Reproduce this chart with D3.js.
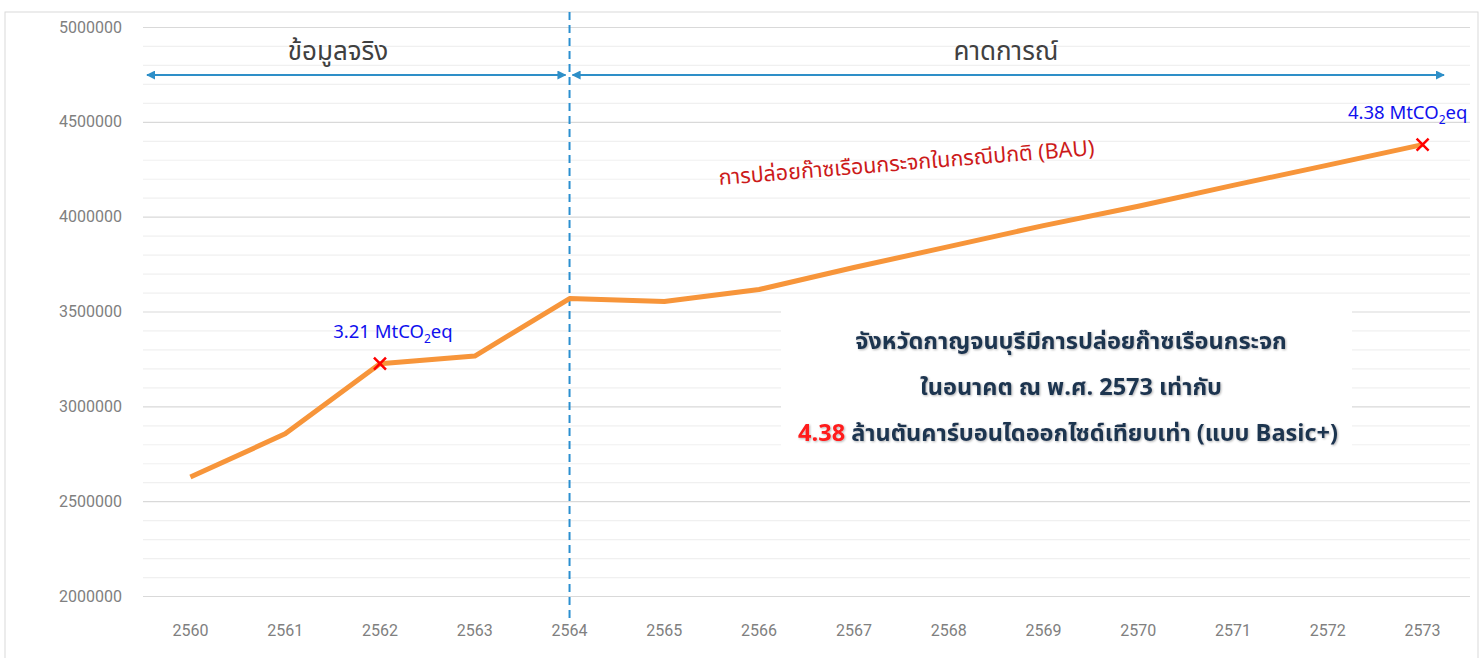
<!DOCTYPE html>
<meta charset="utf-8">
<style>
body { margin: 0; background: #fff; }
svg { font-family: "Noto Sans Thai", "Leelawadee UI", Tahoma, "DejaVu Sans", sans-serif; }
.tick-label { font-family: "Roboto", sans-serif; font-size: 16px; fill: #808080; }
</style>
<body>
<svg id="chart" width="1482" height="658"></svg>
<script src="https://cdn.jsdelivr.net/npm/d3@7"></script>
<script>

var years = ["2560","2561","2562","2563","2564","2565","2566","2567","2568","2569","2570","2571","2572","2573"];
var emissions = [2627000, 2855000, 3225000, 3265000, 3568000, 3553000, 3616000, 3732000, 3842000, 3953000, 4055000, 4165000, 4272000, 4380000];
var yTicks = [2000000, 2500000, 3000000, 3500000, 4000000, 4500000, 5000000];
var markedYears = ["2562", "2573"];
var markLabels = ["3.21 MtCO", "4.38 MtCO"];
var periodLabels = ["ข้อมูลจริง", "คาดการณ์"];
var splitYear = "2564";
var bauLabel = "การปล่อยก๊าซเรือนกระจกในกรณีปกติ (BAU)";
var boxLines = ["จังหวัดกาญจนบุรีมีการปล่อยก๊าซเรือนกระจก", "ในอนาคต ณ พ.ศ. 2573 เท่ากับ", "ล้านตันคาร์บอนไดออกไซด์เทียบเท่า (แบบ Basic+)"];
var boxValue = "4.38";

var svg = d3.select("#chart");

var x = d3.scalePoint()
    .domain(years)
    .range([143, 1470])
    .padding(0.5);
var y = d3.scaleLinear()
    .domain([2000000, 5000000])
    .range([596, 27]);

// outer frame
svg.append("rect")
    .attr("x", 5).attr("y", 12)
    .attr("width", 1473).attr("height", 660)
    .attr("fill", "none").attr("stroke", "#d9d9d9");

// minor + major grid
var minor = d3.range(2000000, 5000001, 100000);
svg.append("g").selectAll("line")
    .data(minor)
  .enter().append("line")
    .attr("x1", 143).attr("x2", 1470)
    .attr("y1", d => y(d) + 0.5).attr("y2", d => y(d) + 0.5)
    .attr("stroke", d => d % 500000 === 0 ? "#d9d9d9" : "#f0f0f0")
    .attr("stroke-width", 1.2);

// y labels
svg.append("g").selectAll("text")
    .data(yTicks)
  .enter().append("text")
    .attr("class", "tick-label")
    .attr("x", 122)
    .attr("y", d => y(d))
    .attr("dy", "0.35em")
    .attr("text-anchor", "end")
    .text(d => d);

// x labels
svg.append("g").selectAll("text")
    .data(years)
  .enter().append("text")
    .attr("class", "tick-label")
    .attr("x", d => x(d))
    .attr("y", 636)
    .attr("text-anchor", "middle")
    .text(d => d);

// white box behind the summary text
svg.append("rect")
    .attr("x", 781).attr("y", 308)
    .attr("width", 571).attr("height", 150)
    .attr("fill", "#fff");

// split line
svg.append("line")
    .attr("x1", x(splitYear)).attr("x2", x(splitYear))
    .attr("y1", 12).attr("y2", 620)
    .attr("stroke", "#2b8fd0").attr("stroke-width", 2)
    .attr("stroke-dasharray", "8,5");

// arrows
var defs = svg.append("defs");
defs.append("marker")
    .attr("id", "ah").attr("viewBox", "0 0 10 10")
    .attr("refX", 9).attr("refY", 5)
    .attr("markerWidth", 5).attr("markerHeight", 5)
    .attr("markerUnits", "strokeWidth")
    .attr("orient", "auto-start-reverse")
  .append("path").attr("d", "M0,0L10,5L0,10z").attr("fill", "#2e8fc8");
defs.append("filter").attr("id", "shadow")
  .append("feDropShadow")
    .attr("dx", 1).attr("dy", 1).attr("stdDeviation", 1)
    .attr("flood-color", "#000").attr("flood-opacity", 0.3);

var xs = x(splitYear);
var spans = [[147, xs - 4], [xs + 3, 1444]];
svg.append("g").selectAll("line")
    .data(spans)
  .enter().append("line")
    .attr("x1", d => d[0]).attr("x2", d => d[1])
    .attr("y1", 75).attr("y2", 75)
    .attr("stroke", "#2e8fc8").attr("stroke-width", 1.8)
    .attr("marker-start", "url(#ah)").attr("marker-end", "url(#ah)");

svg.append("g").selectAll("text")
    .data(periodLabels)
  .enter().append("text")
    .attr("x", (d, i) => i === 0 ? 338 : 1006)
    .attr("y", 60)
    .attr("text-anchor", "middle")
    .attr("font-size", 26)
    .attr("fill", "#404040")
    .text(d => d);

// BAU line
var line = d3.line()
    .x((d, i) => x(years[i]))
    .y(d => y(d));
svg.append("path")
    .datum(emissions)
    .attr("d", line)
    .attr("fill", "none")
    .attr("stroke", "#f7953a")
    .attr("stroke-width", 5)
    .attr("stroke-linejoin", "round");

// red x markers + labels
markedYears.forEach(function(yr, i) {
  var v = emissions[years.indexOf(yr)];
  var cx = x(yr), cy = y(v);
  svg.append("path")
    .attr("d", `M${cx-6},${cy-6}L${cx+6},${cy+6}M${cx-6},${cy+6}L${cx+6},${cy-6}`)
    .attr("stroke", "#ff0000").attr("stroke-width", 2.5);
  var t = svg.append("text")
    .attr("x", i === 0 ? cx + 13 : cx - 15)
    .attr("y", cy - 26)
    .attr("text-anchor", "middle")
    .attr("font-size", 18.5)
    .attr("fill", "#1010ee");
  t.append("tspan").text(markLabels[i]);
  t.append("tspan").attr("dy", 5).attr("font-size", 12).text("2");
  t.append("tspan").attr("dy", -5).text("eq");
});

// BAU label
svg.append("text")
    .attr("transform", "translate(907,170) rotate(-4.6)")
    .attr("text-anchor", "middle")
    .attr("font-size", 21.5)
    .attr("fill", "#cc1a1a")
    .text(bauLabel);

// summary text
var box = svg.append("g")
    .attr("font-size", 23.5)
    .attr("font-weight", "bold")
    .attr("fill", "#1f3450")
    .attr("text-anchor", "middle")
    .attr("filter", "url(#shadow)");
box.selectAll("text")
    .data(boxLines.slice(0, 2))
  .enter().append("text")
    .attr("x", 1071)
    .attr("y", (d, i) => 349 + i * 46)
    .text(d => d);
var last = box.append("text")
    .attr("x", 1068)
    .attr("y", 441);
last.append("tspan").attr("fill", "#ff1a1a").text(boxValue + " ");
last.append("tspan").text(boxLines[2]);

</script>
</body>
